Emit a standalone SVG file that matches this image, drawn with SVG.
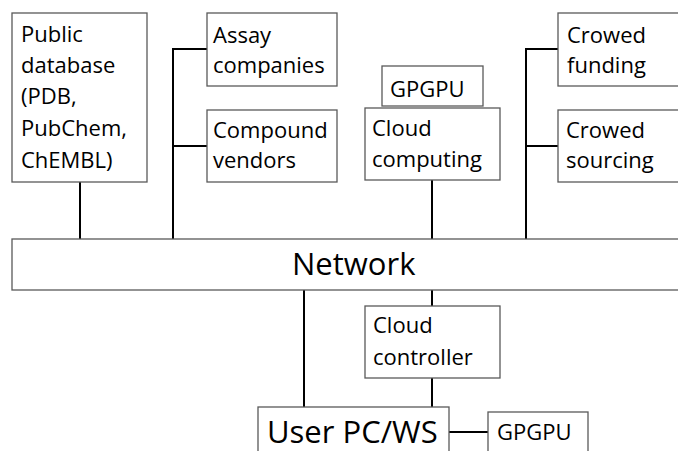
<svg xmlns="http://www.w3.org/2000/svg" width="678" height="451" viewBox="0 0 678 451">
  <style>
    .box { fill: #ffffff; stroke: #595959; stroke-width: 1.3; }
    .wire { stroke: #000000; stroke-width: 2; fill: none; }
    text { font-family: "Open Sans", "Liberation Sans", sans-serif; fill: #000000; }
    .t { font-size: 22px; }
    .big { font-size: 31px; }
  </style>
  <rect width="678" height="451" fill="#ffffff"/>

  <!-- connectors -->
  <g id="connectors">
    <line class="wire" x1="80" y1="182" x2="80" y2="239"/>
    <polyline class="wire" points="207,49 173,49 173,239"/>
    <line class="wire" x1="173" y1="146" x2="207" y2="146"/>
    <line class="wire" x1="432" y1="180" x2="432" y2="239"/>
    <polyline class="wire" points="558,49 526,49 526,239"/>
    <line class="wire" x1="526" y1="146" x2="558" y2="146"/>
    <line class="wire" x1="304" y1="290" x2="304" y2="407"/>
    <line class="wire" x1="432" y1="290" x2="432" y2="306"/>
    <line class="wire" x1="432" y1="378" x2="432" y2="407"/>
    <line class="wire" x1="449" y1="432" x2="488" y2="432"/>
  </g>

  <g id="public-db">
    <rect class="box" x="12" y="13" width="135" height="169"/>
    <text class="t" x="21" y="42">Public</text>
    <text class="t" x="21" y="73">database</text>
    <text class="t" x="21" y="104">(PDB,</text>
    <text class="t" x="21" y="136">PubChem,</text>
    <text class="t" x="21" y="168">ChEMBL)</text>
  </g>

  <g id="assay">
    <rect class="box" x="207" y="13" width="130" height="73"/>
    <text class="t" x="213" y="43">Assay</text>
    <text class="t" x="213" y="73">companies</text>
  </g>

  <g id="compound">
    <rect class="box" x="207" y="110" width="130" height="72"/>
    <text class="t" x="213" y="138">Compound</text>
    <text class="t" x="213" y="168">vendors</text>
  </g>

  <g id="gpgpu-cloud">
    <rect class="box" x="382" y="66" width="101" height="40"/>
    <text class="t" x="390" y="97">GPGPU</text>
  </g>

  <g id="cloud-computing">
    <rect class="box" x="365" y="108" width="135" height="72"/>
    <text class="t" x="372" y="136">Cloud</text>
    <text class="t" x="372" y="167">computing</text>
  </g>

  <g id="crowd-funding">
    <rect class="box" x="558" y="13" width="130" height="73"/>
    <text class="t" x="567" y="43">Crowed</text>
    <text class="t" x="567" y="73">funding</text>
  </g>

  <g id="crowd-sourcing">
    <rect class="box" x="558" y="110" width="130" height="72"/>
    <text class="t" x="566" y="138">Crowed</text>
    <text class="t" x="566" y="168">sourcing</text>
  </g>

  <g id="network">
    <rect class="box" x="12" y="239" width="680" height="51"/>
    <text class="big" x="292" y="275">Network</text>
  </g>

  <g id="cloud-controller">
    <rect class="box" x="365" y="306" width="135" height="72"/>
    <text class="t" x="373" y="333">Cloud</text>
    <text class="t" x="373" y="365">controller</text>
  </g>

  <g id="user-pc">
    <rect class="box" x="258" y="407" width="191" height="60"/>
    <text class="big" x="267" y="443">User PC/WS</text>
  </g>

  <g id="gpgpu-user">
    <rect class="box" x="488" y="412" width="100" height="55"/>
    <text class="t" x="497" y="440">GPGPU</text>
  </g>
</svg>
